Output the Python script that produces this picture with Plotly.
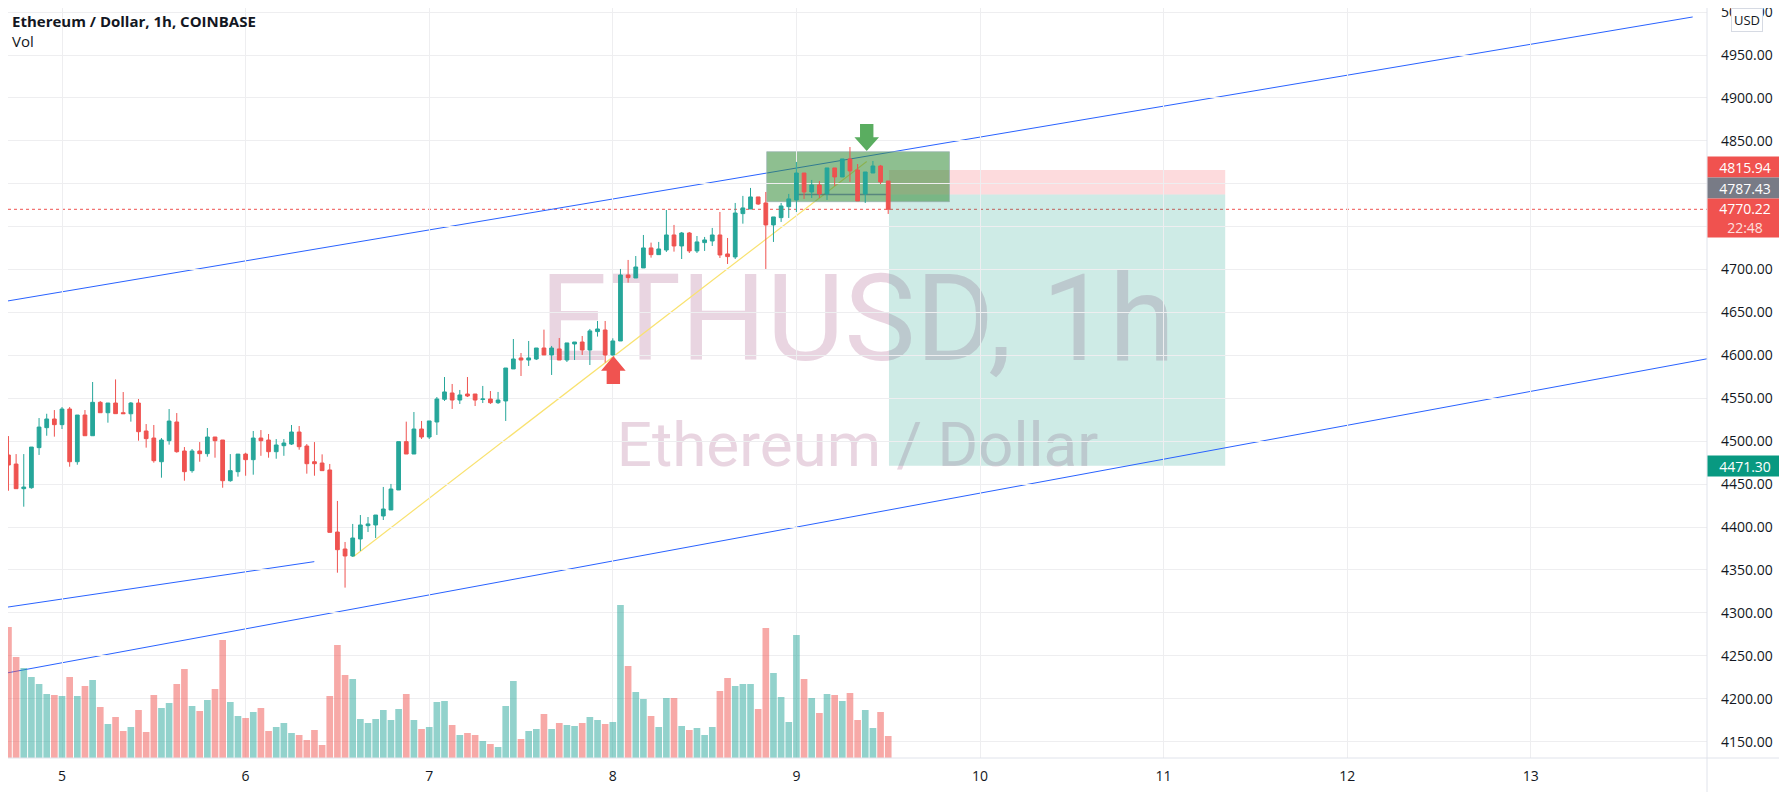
import plotly.graph_objects as go
import pandas as pd

# ---------------- data ----------------
first_bar = "2021-11-04 16:00"
opens = [4536.3, 4483.9, 4473.4, 4444.7, 4445.8, 4492.5, 4515.8, 4525.9, 4519.3, 4537.5,
         4476.1, 4530.5, 4506.4, 4545.3, 4533.2, 4544.5, 4533.2, 4532.0, 4544.5, 4511.9,
         4503.7, 4476.1, 4500.6, 4522.4, 4488.6, 4465.7, 4488.6, 4485.5, 4504.9, 4501.4,
         4454.0, 4464.5, 4485.0, 4478.5, 4503.7, 4501.4, 4487.8, 4494.8, 4496.7, 4510.7,
         4494.4, 4476.1, 4474.6, 4466.5, 4394.2, 4374.4, 4366.3, 4386.1, 4401.6, 4402.4,
         4412.9, 4419.9, 4443.2, 4499.5, 4485.1, 4514.2, 4504.9, 4522.4, 4548.9, 4556.2,
         4548.0, 4555.0, 4555.0, 4548.6, 4549.2, 4544.9, 4546.9, 4584.2, 4597.0, 4594.6,
         4595.8, 4608.6, 4600.5, 4607.5, 4594.6, 4613.3, 4615.6, 4606.3, 4627.7, 4629.6,
         4600.5, 4616.8, 4693.7, 4690.2, 4701.9, 4725.2, 4717.4, 4722.8, 4740.3, 4727.5,
         4742.6, 4721.7, 4731.4, 4733.3, 4740.3, 4718.2, 4714.7, 4765.2, 4770.6, 4784.6,
         4777.6, 4752.0, 4760.5, 4773.3, 4781.1, 4812.5, 4790.4, 4798.6, 4788.1, 4818.4,
         4807.9, 4828.9, 4816.0, 4788.1, 4812.5, 4820.7, 4803.2]
highs = [4541.0, 4506.0, 4485.0, 4485.0, 4493.2, 4527.0, 4532.0, 4536.3, 4539.8, 4539.8,
         4530.5, 4536.3, 4569.0, 4546.8, 4544.5, 4572.0, 4557.3, 4545.7, 4549.2, 4520.0,
         4518.9, 4503.7, 4537.5, 4532.8, 4493.2, 4490.9, 4499.0, 4515.4, 4504.9, 4501.4,
         4485.0, 4485.0, 4486.6, 4511.9, 4513.0, 4508.4, 4502.5, 4502.5, 4518.9, 4517.7,
         4496.7, 4499.0, 4484.7, 4473.5, 4430.4, 4382.6, 4403.6, 4414.0, 4411.7, 4414.0,
         4446.7, 4450.2, 4499.5, 4522.8, 4534.0, 4523.6, 4523.6, 4551.5, 4574.8, 4566.7,
         4559.7, 4574.8, 4555.0, 4564.4, 4558.5, 4557.4, 4585.3, 4619.1, 4602.8, 4616.8,
         4608.6, 4630.0, 4611.0, 4620.3, 4614.5, 4615.6, 4622.6, 4630.8, 4640.1, 4640.1,
         4619.9, 4700.7, 4711.2, 4715.8, 4740.3, 4731.4, 4732.2, 4769.4, 4752.0, 4743.8,
         4743.8, 4739.1, 4738.0, 4748.5, 4767.1, 4736.8, 4777.6, 4785.8, 4795.1, 4784.6,
         4790.4, 4761.3, 4777.6, 4788.1, 4825.4, 4812.5, 4804.4, 4803.2, 4818.4, 4818.4,
         4828.9, 4842.8, 4823.0, 4813.7, 4826.5, 4821.9, 4803.2]
lows = [4465.7, 4442.3, 4444.7, 4423.7, 4444.7, 4484.0, 4506.4, 4505.3, 4514.2, 4470.3,
        4472.6, 4506.4, 4506.4, 4533.2, 4521.6, 4532.0, 4532.0, 4522.8, 4500.6, 4492.5,
        4475.0, 4457.5, 4496.0, 4486.6, 4454.0, 4463.3, 4476.1, 4482.0, 4480.8, 4445.8,
        4452.8, 4458.7, 4459.8, 4461.0, 4483.0, 4480.8, 4479.6, 4483.0, 4495.6, 4490.1,
        4462.2, 4459.8, 4465.7, 4393.8, 4346.8, 4329.4, 4365.1, 4372.1, 4394.2, 4387.2,
        4408.2, 4419.9, 4443.2, 4485.1, 4485.1, 4502.6, 4502.6, 4507.3, 4546.9, 4537.6,
        4543.4, 4551.5, 4541.0, 4544.5, 4543.4, 4543.4, 4523.6, 4584.2, 4576.0, 4587.7,
        4594.6, 4600.5, 4577.2, 4594.6, 4592.3, 4594.6, 4600.5, 4588.8, 4621.9, 4591.6,
        4599.7, 4616.8, 4684.8, 4690.2, 4701.9, 4713.9, 4717.4, 4720.5, 4720.9, 4712.3,
        4719.3, 4719.3, 4721.7, 4727.5, 4713.5, 4706.5, 4712.3, 4753.5, 4770.6, 4775.3,
        4700.7, 4732.2, 4755.5, 4760.1, 4767.1, 4782.3, 4783.4, 4783.4, 4781.1, 4797.4,
        4807.9, 4802.1, 4780.0, 4777.6, 4812.5, 4799.7, 4764.8]
closes = [4482.7, 4472.3, 4444.7, 4446.6, 4493.2, 4516.5, 4525.9, 4519.3, 4537.5, 4476.1,
          4530.5, 4506.4, 4545.3, 4533.2, 4544.5, 4532.1, 4532.1, 4544.5, 4511.1, 4503.0,
          4477.3, 4501.4, 4523.5, 4487.8, 4464.5, 4488.6, 4485.5, 4504.9, 4500.6, 4454.0,
          4465.7, 4485.0, 4478.5, 4503.7, 4500.6, 4487.8, 4495.6, 4497.9, 4510.7, 4493.6,
          4473.8, 4473.8, 4465.7, 4393.8, 4373.6, 4366.3, 4387.2, 4402.4, 4403.6, 4414.0,
          4421.0, 4444.3, 4499.5, 4485.1, 4514.2, 4504.9, 4523.6, 4549.2, 4557.4, 4548.0,
          4553.9, 4552.7, 4548.0, 4549.2, 4544.9, 4548.0, 4585.3, 4595.8, 4594.6, 4597.0,
          4608.6, 4600.5, 4608.6, 4594.6, 4614.5, 4615.6, 4606.3, 4628.5, 4630.8, 4600.5,
          4616.8, 4693.7, 4690.6, 4703.0, 4725.2, 4717.4, 4724.0, 4740.3, 4727.5, 4742.6,
          4721.7, 4732.2, 4734.5, 4740.3, 4717.0, 4715.1, 4765.9, 4771.8, 4784.6, 4776.4,
          4752.0, 4761.3, 4774.1, 4782.3, 4812.5, 4790.4, 4798.6, 4788.1, 4818.4, 4807.9,
          4828.9, 4814.9, 4780.0, 4813.7, 4820.7, 4802.1, 4770.22]
volumes = [18.8, 13.1, 10.1, 9.0, 8.1, 7.4, 6.4, 6.3, 6.2, 8.1,
           6.2, 7.2, 7.8, 5.1, 3.4, 4.1, 2.7, 3.1, 4.8, 2.6,
           6.3, 5.0, 5.5, 7.4, 8.9, 5.2, 4.7, 5.8, 6.9, 11.8,
           5.6, 4.2, 4.0, 4.6, 5.0, 2.7, 3.1, 3.5, 2.5, 2.3,
           1.8, 2.8, 1.3, 6.2, 11.3, 8.3, 7.9, 3.9, 3.5, 3.9,
           4.8, 3.8, 4.9, 6.4, 3.8, 2.9, 3.1, 5.6, 5.7, 3.3,
           2.3, 2.5, 2.3, 1.7, 1.4, 1.1, 5.2, 7.7, 1.9, 2.7,
           2.9, 4.4, 2.9, 3.5, 3.3, 3.2, 3.5, 4.1, 3.8, 3.4,
           3.6, 15.3, 9.2, 6.6, 5.9, 4.2, 3.1, 6.0, 6.0, 3.2,
           2.8, 3.0, 2.3, 3.1, 6.7, 8.0, 7.2, 7.4, 7.4, 4.9,
           13.0, 8.5, 6.1, 3.6, 12.3, 7.9, 6.0, 4.5, 6.4, 6.3,
           5.7, 6.5, 3.8, 4.8, 3.0, 4.6, 2.2]

price_ticks_step = 50
stop_price = 4815.94
entry_price = 4787.43
last_price = 4770.22
target_price = 4471.30
countdown = "22:48"
title_text = "Ethereum / Dollar, 1h, COINBASE"
volume_label = "Vol"
watermark_big = "ETHUSD, 1h"
watermark_small = "Ethereum / Dollar"

# ---------------- styling ----------------
UP = "#26a69a"
DN = "#ef5350"
UP_VOL = "rgba(38,166,154,0.5)"
DN_VOL = "rgba(239,83,80,0.5)"
GRID = "#eeeef0"
BORDER = "#e0e3eb"
TXT = "#131722"
WM = "#e9d5e1"
FONT = "Open Sans"
WM_FONT = "Roboto"

times = pd.date_range(first_bar, periods=len(opens), freq="h")
vol_colors = [UP_VOL if c >= o else DN_VOL for o, c in zip(opens, closes)]

base = pd.Timestamp("2021-11-05 00:00")


def T(h):
    return base + pd.Timedelta(hours=h)


# the page body has an 8px margin: plot area spans page x 8..1707, y 8..758
PH = 750.0
PW = 1699.0


def py(Y):
    return 1 - (Y - 8) / PH


def px(X):
    return (X - 8) / PW


fig = go.Figure()
fig.add_trace(go.Candlestick(
    x=times, open=opens, high=highs, low=lows, close=closes,
    increasing=dict(line=dict(color=UP, width=1), fillcolor=UP),
    decreasing=dict(line=dict(color=DN, width=1), fillcolor=DN),
    whiskerwidth=0, hoverinfo="skip", showlegend=False,
))
fig.add_trace(go.Bar(
    x=times, y=volumes, yaxis="y2",
    marker=dict(color=vol_colors, line=dict(width=0)),
    hoverinfo="skip", showlegend=False,
))

shapes = []
# watermark (behind everything)
shapes.append(dict(type="rect", xref="paper", yref="paper", x0=0, x1=1,
                   y0=0.597 - 0.06, y1=0.597 + 0.06, layer="below",
                   line=dict(width=0), fillcolor="rgba(0,0,0,0)",
                   label=dict(text=watermark_big, textposition="middle center",
                              font=dict(size=120, color=WM, family=WM_FONT))))
shapes.append(dict(type="rect", xref="paper", yref="paper", x0=0, x1=1,
                   y0=0.424 - 0.04, y1=0.424 + 0.04, layer="below",
                   line=dict(width=0), fillcolor="rgba(0,0,0,0)",
                   label=dict(text=watermark_small, textposition="middle center",
                              font=dict(size=62, color=WM, family=WM_FONT))))
# position tool zones
shapes.append(dict(type="rect", xref="x", yref="y", x0=T(108.1), x1=T(152.05),
                   y0=entry_price, y1=stop_price, layer="below",
                   line=dict(width=0), fillcolor="rgba(242,54,69,0.18)"))
shapes.append(dict(type="rect", xref="x", yref="y", x0=T(108.1), x1=T(152.05),
                   y0=target_price, y1=entry_price, layer="below",
                   line=dict(width=0), fillcolor="rgba(8,153,129,0.2)"))
# channel lines
shapes.append(dict(type="line", xref="x", yref="y", x0=T(-8.105), y0=4661.9,
                   x1=T(213.16), y1=4994.3, layer="below",
                   line=dict(color="#2962ff", width=1)))
shapes.append(dict(type="line", xref="x", yref="y", x0=T(-8.105), y0=4228.5,
                   x1=T(222.0), y1=4607.5, layer="below",
                   line=dict(color="#2962ff", width=1)))
shapes.append(dict(type="line", xref="x", yref="y", x0=T(-8.105), y0=4305.4,
                   x1=T(32.98), y1=4359.7, layer="below",
                   line=dict(color="#2962ff", width=1)))
# yellow trend line
shapes.append(dict(type="line", xref="x", yref="y", x0=T(38.08), y0=4365.5,
                   x1=T(105.19), y1=4825.8, layer="below",
                   line=dict(color="#f9e270", width=1.2)))
# current price dotted line
shapes.append(dict(type="line", xref="paper", yref="y", x0=0, x1=1,
                   y0=last_price, y1=last_price, layer="below",
                   line=dict(color=DN, width=1, dash="dot")))
# green box
shapes.append(dict(type="rect", xref="x", yref="y", x0=T(92.12), x1=T(116.0),
                   y0=4779.1, y1=4837.3, layer="below",
                   line=dict(color="rgba(150,175,175,0.7)", width=1),
                   fillcolor="rgba(56,142,60,0.57)"))
shapes.append(dict(type="line", xref="x", yref="y", x0=T(95.8), x1=T(108.1),
                   y0=entry_price, y1=entry_price, layer="below",
                   line=dict(color="rgba(70,115,120,0.75)", width=1.5)))
# arrows
shapes.append(dict(type="path", xref="x", yref="y", xsizemode="pixel", ysizemode="pixel",
                   xanchor=T(72.07), yanchor=4566.7,
                   path="M -6.7 0 L -6.7 13.3 L -12.3 13.3 L 0 28 L 12.3 13.3 L 6.7 13.3 L 6.7 0 Z",
                   fillcolor="#f05350", line=dict(width=0), layer="above"))
shapes.append(dict(type="path", xref="x", yref="y", xsizemode="pixel", ysizemode="pixel",
                   xanchor=T(105.19), yanchor=4869.6,
                   path="M -6.7 0 L -6.7 -13.3 L -12.3 -13.3 L 0 -27 L 12.3 -13.3 L 6.7 -13.3 L 6.7 0 Z",
                   fillcolor="#5aad60", line=dict(width=0), layer="above"))
# axis borders
shapes.append(dict(type="line", xref="paper", yref="paper", x0=1, x1=1, y0=py(800), y1=1,
                   line=dict(color=BORDER, width=1), layer="above"))
shapes.append(dict(type="line", xref="paper", yref="paper", x0=0, x1=px(1790), y0=0, y1=0,
                   line=dict(color=BORDER, width=1), layer="above"))

annotations = []
annotations.append(dict(text="<b>" + title_text + "</b>", xref="paper", yref="paper",
                        x=0, xshift=2, xanchor="left", y=py(20.5), yanchor="middle",
                        showarrow=False, font=dict(family=FONT, size=15, color=TXT)))
annotations.append(dict(text=volume_label, xref="paper", yref="paper",
                        x=0, xshift=2, xanchor="left", y=py(41), yanchor="middle",
                        showarrow=False, font=dict(family=FONT, size=15, color=TXT)))


def price_label(text, price, color, yshift=0, height=16):
    return dict(text=text, xref="paper", yref="y", x=1, xanchor="left", y=price,
                yanchor="middle", yshift=yshift, showarrow=False, bgcolor=color,
                width=70, height=height, borderpad=2, align="center",
                font=dict(family=FONT, size=14, color="white"))


annotations.append(price_label(f"{stop_price:.2f}", stop_price, "#f0524f", yshift=3.4))
annotations.append(price_label(f"{entry_price:.2f}", entry_price, "#787b86", yshift=6.5))
annotations.append(price_label(f"{last_price:.2f}<br><span style='color:#fde0df'>{countdown}</span>",
                               last_price, "#f0524f", yshift=-8.7, height=34))
annotations.append(price_label(f"{target_price:.2f}", target_price, "#089981"))
annotations.append(dict(text="USD", xref="paper", yref="paper", x=px(1746.5), xanchor="center",
                        y=py(20), yanchor="middle", showarrow=False, bgcolor="white",
                        bordercolor="#d6dae3", borderwidth=1, borderpad=2,
                        font=dict(family=FONT, size=13, color=TXT)))

fig.update_layout(
    width=1779, height=784,
    margin=dict(l=0, r=80, t=0, b=34, autoexpand=False),
    paper_bgcolor="white", plot_bgcolor="rgba(0,0,0,0)",
    showlegend=False, bargap=0.13,
    font=dict(family=FONT, color=TXT),
    xaxis=dict(type="date", range=[T(-7.06), T(215.03)], automargin=False,
               tick0="2021-11-05", dtick=86400000, tickformat="%-d",
               showgrid=True, gridcolor=GRID, gridwidth=1, zeroline=False,
               showline=False, ticks="", ticklabelstandoff=8,
               tickfont=dict(family=FONT, size=14, color=TXT),
               rangeslider=dict(visible=False)),
    yaxis=dict(side="right", range=[4130.9, 5004.76], tick0=0, dtick=price_ticks_step,
               automargin=False,
               tickformat=".2f", showgrid=True, gridcolor=GRID, gridwidth=1,
               zeroline=False, showline=False, ticks="", ticklabelstandoff=13,
               ticklabeloverflow="allow",
               tickfont=dict(family=FONT, size=14, color=TXT)),
    yaxis2=dict(overlaying="y", range=[0, 75.0], visible=False, showgrid=False,
                automargin=False),
    shapes=shapes, annotations=annotations,
)

fig.write_html("out.html")
